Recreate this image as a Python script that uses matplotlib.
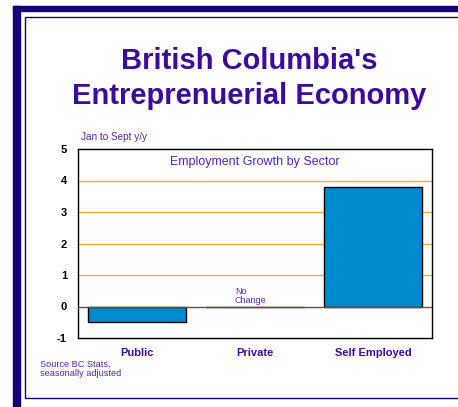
import matplotlib.pyplot as plt
from matplotlib.patches import Rectangle

plt.rcParams['font.family'] = ['Liberation Sans', 'DejaVu Sans']

sectors = ['Public', 'Private', 'Self Employed']
growth = [-0.5, 0.0, 3.8]
yticks = [-1, 0, 1, 2, 3, 4, 5]

W, H = 458, 407
fig = plt.figure(figsize=(W / 100, H / 100), dpi=100)
navy = '#14007a'
purple = '#3d0a99'
light_purple = '#5a22b0'


def px(x0, y0, x1, y1):
    # pixel box (top-left origin) -> figure fraction rect
    return [x0 / W, 1 - y1 / H, (x1 - x0) / W, (y1 - y0) / H]


# outer frame
fig.patches.append(Rectangle((13 / W, 0), 7 / W, 1 - 6 / H, transform=fig.transFigure,
                             color=navy, zorder=0))
fig.patches.append(Rectangle((13 / W, 1 - 11 / H), 1, 5 / H, transform=fig.transFigure,
                             color=navy, zorder=0))
fig.patches.append(Rectangle((25 / W, 1 - 398 / H), 1, (398 - 17) / H, transform=fig.transFigure,
                             fill=False, edgecolor=navy, lw=1, zorder=0))

fig.text(249 / W, 1 - 61 / H, "British Columbia's", ha='center', va='center',
         fontsize=21, fontweight='bold', color=purple)
fig.text(249 / W, 1 - 96 / H, "Entreprenuerial Economy", ha='center', va='center',
         fontsize=21, fontweight='bold', color=purple)

ax = fig.add_axes(px(78, 149, 432, 338))
x = range(len(sectors))
ax.bar(x, growth, width=0.83, color='#008ad0', edgecolor='black', linewidth=1, zorder=3)
ax.set_xlim(-0.5, 2.5)
ax.set_ylim(-1, 5)
ax.set_yticks(yticks)
ax.set_yticklabels([str(t) for t in yticks], fontweight='bold', fontsize=8)
for t in [1, 2, 3, 4]:
    ax.axhline(t, color='#ffaa22', lw=1, zorder=1)
ax.axhline(0, color='#6b5020', lw=1, zorder=4)
ax.set_xticks(list(x))
ax.set_xticklabels(sectors, fontweight='bold', fontsize=8, color=purple)
ax.tick_params(axis='both', length=0, pad=8)
ax.tick_params(axis='x', pad=7)
for s in ax.spines.values():
    s.set_linewidth(1)

ax.text(0.5, 0.93, 'Employment Growth by Sector', transform=ax.transAxes,
        ha='center', va='center', fontsize=9, color=light_purple)
ax.text(0.83, 0.05, 'No\nChange', ha='left', va='bottom', fontsize=6.5,
        color=light_purple, linespacing=1.0)

fig.text(81 / W, 1 - 137 / H, 'Jan to Sept y/y', ha='left', va='center',
         fontsize=7.2, color=light_purple)
fig.text(40 / W, 1 - 369 / H, 'Source BC Stats,\nseasonally adjusted', ha='left',
         va='center', fontsize=6.6, color=light_purple, linespacing=1.1)

fig.savefig('out.png', dpi=100)
